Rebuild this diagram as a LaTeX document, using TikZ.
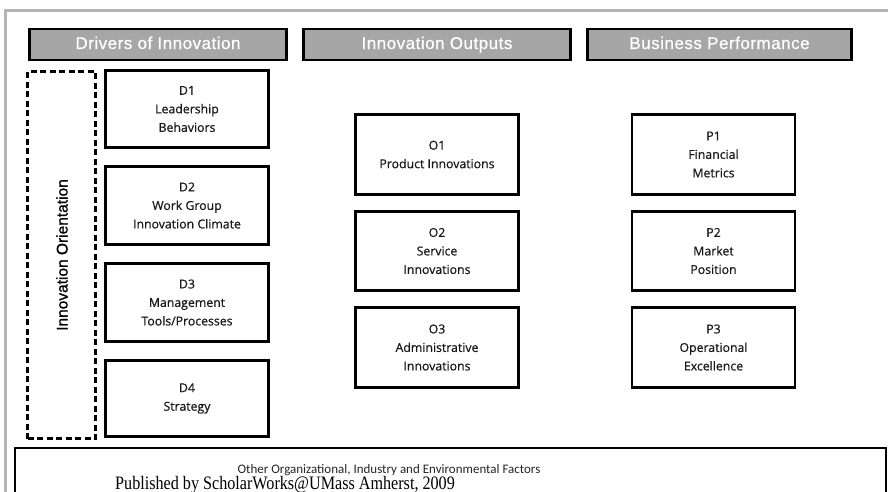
\documentclass[tikz,border=0pt]{standalone}
\usepackage{fontspec}
\setmainfont[FakeBold=0.6,AutoFakeBold=0.6]{Open Sans}
\newfontfamily\hdrfont[LetterSpace=3,FakeBold=0.8]{Liberation Sans}
\newfontfamily\orifont[FakeBold=1]{Liberation Sans}
\newfontfamily\botfont{Carlito}
\newfontfamily\pubfont[FakeStretch=0.85]{Liberation Serif}
\definecolor{framegrey}{HTML}{B4B4B4}
\definecolor{hdrgrey}{HTML}{A6A6A6}
\tikzset{
  hdrbox/.style={draw=black, line width=2.5pt, fill=hdrgrey, text=white,
    minimum height=31pt, inner sep=0pt, text height=12.5pt, text depth=3.5pt,
    font=\hdrfont\fontsize{17}{19}\selectfont},
  itembox/.style={draw=black, line width=2.6pt, fill=white, text=black!90,
    minimum width=163pt, inner sep=0pt, align=center,
    font=\fontsize{12.3}{18.5}\selectfont},
}
\begin{document}
\begin{tikzpicture}[x=1pt,y=-1pt]
\useasboundingbox (0,0) rectangle (888,491);
\clip (0,0) rectangle (888,491);
\fill[white] (0,0) rectangle (888,491);
% frame
\draw[framegrey, line width=3pt] (5,495) -- (5,10) -- (890,10);
% headers
\node[hdrbox, minimum width=257pt] (hd) at (158,44.5) {Drivers of Innovation};
\node[hdrbox, minimum width=267pt] (ho) at (437,44.5) {Innovation Outputs};
\node[hdrbox, minimum width=264pt] (hp) at (719.5,44.5) {Business Performance};
% orientation
\node[draw=black, dashed, dash pattern=on 6pt off 3.5pt, line width=2.8pt,
  minimum width=68pt, minimum height=367pt, inner sep=0pt] (ori) at (61.5,255) {};
\node[rotate=90, font=\orifont\fontsize{15.5}{17}\selectfont, text=black] (orit) at (62,255) {Innovation Orientation};
% drivers
\node[itembox, minimum height=77pt] (d1) at (187,109) {D1\\Leadership\\Behaviors};
\node[itembox, minimum height=78pt] (d2) at (187,205.5) {D2\\Work Group\\Innovation Climate};
\node[itembox, minimum height=78pt] (d3) at (187,302.5) {D3\\Management\\Tools/Processes};
\node[itembox, minimum height=76pt] (d4) at (187,398.5) {D4\\Strategy};
% outputs
\node[itembox, minimum height=80pt] (o1) at (437,154.5) {O1\\Product Innovations};
\node[itembox, minimum height=79pt] (o2) at (437,251) {O2\\Service\\Innovations};
\node[itembox, minimum height=80pt] (o3) at (437,347.5) {O3\\Administrative\\Innovations};
% performance
\node[itembox, minimum height=80pt] (p1) at (713.5,154.5) {P1\\Financial\\Metrics};
\node[itembox, minimum height=79pt] (p2) at (713.5,251) {P2\\Market\\Position};
\node[itembox, minimum height=80pt] (p3) at (713.5,347.5) {P3\\Operational\\Excellence};
% bottom
\draw[black, line width=2.8pt] (15,510) -- (15,448) -- (886,448) -- (886,510);
\node[anchor=base, font=\botfont\fontsize{13}{15}\selectfont, text=black!85] (oth) at (389,473) {Other Organizational, Industry and Environmental Factors};
\node[anchor=base west, inner sep=0pt, font=\pubfont\fontsize{19}{21}\selectfont, text=black] (pub) at (115,489) {Published by ScholarWorks@UMass Amherst, 2009};
\end{tikzpicture}
\end{document}
